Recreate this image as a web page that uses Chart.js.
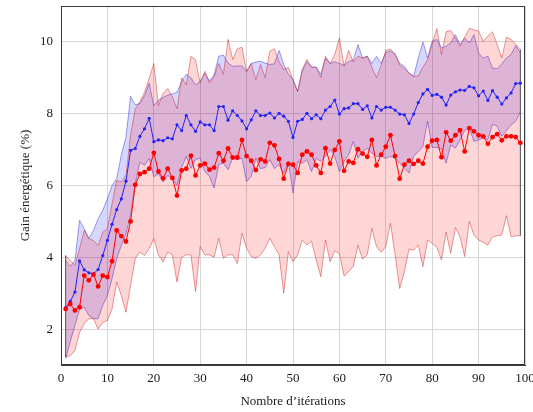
<!DOCTYPE html>
<html lang="fr">
<head>
<meta charset="utf-8">
<title>Gain énergétique</title>
<script src="https://cdn.jsdelivr.net/npm/chart.js@4.4.1/dist/chart.umd.min.js"></script>
<style>
  html, body { margin: 0; padding: 0; background: #fff; }
  canvas { display: block; }
</style>
</head>
<body>
<canvas id="gainChart" width="533" height="412"></canvas>
<script>
// itérations 1..99
const iterations = Array.from({ length: 99 }, (_, i) => i + 1);

const blueMean = [
  2.60, 2.77, 3.03, 3.90, 3.65, 3.57, 3.54, 3.66, 4.05, 4.47, 4.92, 5.33, 5.63, 6.12, 6.98, 7.03, 7.37, 7.58, 7.87, 7.22, 7.27, 7.25, 7.33, 7.30, 7.69,
  7.53, 7.95, 7.69, 7.51, 7.77, 7.69, 7.69, 7.53, 8.20, 8.20, 7.82, 8.08, 7.95, 7.80, 7.58, 7.83, 8.08, 7.95, 7.95, 8.02, 7.88, 8.01, 7.93, 7.79, 7.34,
  7.79, 7.84, 8.01, 7.86, 7.97, 7.86, 8.10, 8.20, 8.38, 7.99, 8.14, 8.16, 8.28, 8.28, 8.12, 8.22, 7.88, 8.20, 8.10, 8.18, 8.18, 8.10, 7.99, 7.97, 7.73,
  7.99, 8.31, 8.55, 8.68, 8.51, 8.54, 8.46, 8.24, 8.52, 8.61, 8.66, 8.65, 8.76, 8.72, 8.50, 8.63, 8.37, 8.64, 8.46, 8.27, 8.44, 8.58, 8.84, 8.85
];
const blueMax = [
  3.91, 3.75, 3.90, 5.03, 4.80, 4.52, 4.75, 5.07, 5.31, 5.63, 6.00, 6.19, 6.85, 7.35, 8.48, 8.25, 8.28, 8.50, 8.85, 8.22, 8.38, 8.45, 8.52, 8.55, 8.60,
  8.90, 9.10, 9.00, 8.80, 8.90, 9.12, 8.92, 9.08, 9.60, 9.63, 9.41, 9.32, 9.33, 9.33, 9.18, 9.40, 9.44, 9.46, 9.41, 9.37, 9.39, 9.76, 9.37, 9.10, 8.95,
  8.62, 9.20, 9.45, 9.30, 9.30, 9.10, 9.55, 9.40, 9.45, 9.40, 9.35, 9.45, 9.50, 9.92, 9.55, 9.60, 9.40, 9.60, 9.40, 9.70, 9.75, 9.65, 9.40, 9.32, 9.13,
  9.04, 9.55, 10.00, 9.55, 10.02, 10.07, 9.83, 9.88, 9.97, 10.20, 9.93, 10.11, 9.97, 10.20, 9.69, 9.55, 9.60, 9.27, 9.25, 9.39, 9.55, 9.65, 9.90, 9.69
];
const blueMin = [
  1.17, 1.65, 2.10, 2.55, 2.61, 2.38, 2.29, 2.29, 2.66, 2.94, 3.40, 3.96, 4.33, 4.66, 5.17, 6.05, 6.65, 6.56, 6.75, 6.24, 6.33, 6.10, 6.28, 6.20, 6.00,
  6.50, 6.81, 6.48, 6.72, 6.76, 6.39, 6.25, 5.93, 6.58, 6.62, 6.44, 6.76, 6.72, 6.76, 6.11, 6.25, 6.76, 6.47, 6.50, 6.72, 6.47, 6.58, 6.34, 6.67, 5.79,
  6.67, 6.62, 6.72, 6.39, 6.76, 6.67, 6.81, 7.00, 6.81, 6.39, 6.67, 6.86, 7.23, 6.76, 6.95, 7.04, 6.90, 6.81, 6.81, 6.76, 6.81, 6.76, 6.62, 6.50, 6.35,
  6.81, 6.95, 7.09, 7.79, 7.06, 7.06, 7.02, 6.62, 7.13, 7.04, 7.27, 7.53, 7.60, 7.23, 7.27, 7.33, 7.27, 7.71, 7.65, 7.37, 7.53, 7.69, 7.79, 8.05
];

const redMean = [
  2.56, 2.70, 2.52, 2.61, 3.49, 3.36, 3.52, 3.19, 3.49, 3.45, 3.89, 4.75, 4.59, 4.44, 5.00, 6.02, 6.32, 6.37, 6.47, 6.91, 6.39, 6.20, 6.47, 6.21, 5.72,
  6.42, 6.47, 6.83, 6.28, 6.56, 6.61, 6.44, 6.50, 6.90, 6.69, 7.03, 6.78, 6.78, 7.27, 6.82, 6.69, 6.43, 6.73, 6.67, 7.19, 7.12, 6.74, 6.19, 6.60, 6.58,
  6.35, 6.86, 6.95, 6.86, 6.56, 6.35, 7.04, 6.61, 6.99, 7.23, 6.41, 6.67, 6.63, 7.01, 6.89, 6.80, 7.27, 6.56, 6.86, 7.08, 7.40, 6.82, 6.19, 6.58, 6.69,
  6.60, 6.69, 6.61, 7.08, 7.25, 7.27, 6.79, 7.48, 7.25, 7.40, 7.54, 6.95, 7.60, 7.51, 7.40, 7.37, 7.16, 7.35, 7.43, 7.26, 7.37, 7.37, 7.35, 7.19
];
const redMax = [
  4.05, 3.91, 3.77, 4.24, 4.75, 4.52, 4.47, 4.33, 4.70, 4.80, 5.49, 6.14, 6.10, 6.28, 7.40, 8.14, 8.33, 8.60, 8.98, 9.40, 8.23, 8.56, 8.70, 8.47, 8.14,
  9.00, 8.80, 9.60, 9.50, 8.85, 9.18, 8.86, 9.04, 9.40, 9.10, 10.07, 9.51, 9.81, 9.85, 9.18, 9.40, 8.95, 9.37, 9.00, 9.74, 9.81, 9.45, 9.23, 9.29, 8.95,
  8.62, 9.23, 9.51, 9.29, 9.29, 9.01, 9.60, 9.39, 9.65, 10.11, 9.32, 9.76, 9.44, 9.60, 9.55, 9.60, 9.30, 9.00, 9.35, 9.76, 9.80, 9.67, 9.35, 9.25, 9.13,
  9.04, 9.05, 9.30, 9.50, 9.95, 10.37, 9.65, 10.28, 10.32, 10.11, 9.88, 10.13, 10.37, 10.34, 10.30, 10.02, 10.16, 10.28, 9.93, 9.55, 10.13, 10.07, 9.93, 9.79
];
const redMin = [
  1.22, 1.26, 1.40, 1.91, 2.15, 2.29, 2.29, 2.00, 2.19, 2.24, 2.56, 3.31, 2.94, 2.47, 3.22, 3.96, 4.15, 4.05, 4.24, 4.52, 4.07, 3.87, 4.15, 4.07, 3.31,
  4.00, 4.07, 4.07, 3.04, 4.30, 4.07, 4.07, 4.00, 4.53, 3.97, 4.07, 4.07, 3.83, 4.67, 4.25, 4.02, 3.97, 4.07, 4.25, 4.53, 4.30, 4.07, 3.00, 4.16, 3.88,
  4.07, 4.48, 4.34, 4.45, 3.93, 3.46, 4.48, 3.88, 4.18, 4.10, 3.48, 3.60, 3.75, 4.34, 3.95, 4.07, 4.81, 4.30, 4.14, 4.30, 4.95, 4.07, 3.13, 3.60, 4.23,
  4.20, 4.34, 3.74, 4.48, 4.39, 4.28, 3.93, 4.70, 4.11, 4.83, 4.57, 4.02, 5.00, 4.62, 4.48, 4.42, 4.34, 4.57, 4.60, 4.62, 5.16, 4.57, 4.60, 4.60
];

const xTicks = [0, 10, 20, 30, 40, 50, 60, 70, 80, 90, 100];
const yTicks = [2, 4, 6, 8, 10];

const toPoints = values => values.map((v, i) => ({ x: iterations[i], y: v }));
const last = iterations.length - 1;

const serif = "'Liberation Serif', 'DejaVu Serif', serif";

// cadre complet autour de la zone de tracé
const frame = {
  id: 'frame',
  afterDraw(chart) {
    const { ctx, chartArea: a } = chart;
    ctx.save();
    ctx.strokeStyle = '#3a3a3a';
    ctx.lineWidth = 1;
    ctx.strokeRect(a.left + 0.5, a.top + 0.5, a.right - a.left - 1, a.bottom - a.top - 1);
    ctx.restore();
  }
};

function band(label, values, color, order, fill) {
  return {
    label,
    data: toPoints(values),
    borderColor: color,
    borderWidth: 1,
    backgroundColor: fill || 'transparent',
    fill: fill ? '+1' : false,
    pointRadius: 0,
    tension: 0,
    order
  };
}

const ctx = document.getElementById('gainChart').getContext('2d');

new Chart(ctx, {
  type: 'line',
  data: {
    datasets: [
      band('blueMax', blueMax, 'rgba(40,40,210,0.45)', 5, 'rgba(0,0,255,0.16)'),
      band('blueMin', blueMin, 'rgba(40,40,210,0.45)', 5),
      band('redMax', redMax, 'rgba(200,30,30,0.45)', 3, 'rgba(255,0,0,0.16)'),
      band('redMin', redMin, 'rgba(200,30,30,0.45)', 3),
      {
        label: 'bords',
        data: [{ x: 1, y: redMin[0] }, { x: 1, y: redMax[0] }],
        borderColor: 'rgba(40,40,40,0.8)',
        borderWidth: 1,
        pointRadius: 0,
        order: 2
      },
      {
        label: 'bords fin',
        data: [{ x: iterations[last], y: redMin[last] }, { x: iterations[last], y: redMax[last] }],
        borderColor: 'rgba(40,40,40,0.8)',
        borderWidth: 1,
        pointRadius: 0,
        order: 2
      },
      {
        label: 'Moyenne bleue',
        data: toPoints(blueMean),
        borderColor: 'rgb(35,35,245)',
        backgroundColor: 'rgb(35,35,245)',
        borderWidth: 1,
        pointRadius: 1.6,
        pointBorderWidth: 0,
        tension: 0,
        order: 1
      },
      {
        label: 'Moyenne rouge',
        data: toPoints(redMean),
        borderColor: 'rgb(255,0,0)',
        backgroundColor: 'rgb(255,0,0)',
        borderWidth: 1,
        pointRadius: 2.4,
        pointBorderWidth: 0,
        tension: 0,
        order: 0
      }
    ]
  },
  options: {
    responsive: false,
    animation: false,
    layout: { padding: { left: 0, right: 8, top: 6, bottom: 0 } },
    plugins: {
      legend: { display: false },
      tooltip: { enabled: false },
      filler: { propagate: false }
    },
    scales: {
      x: {
        type: 'linear',
        min: 0,
        max: 100,
        afterBuildTicks: scale => { scale.ticks = xTicks.map(v => ({ value: v })); },
        afterFit: scale => { scale.height = 47; scale.paddingLeft = 0; scale.paddingRight = 0; },
        grid: { color: '#d6d6d6', drawTicks: false },
        border: { color: '#3a3a3a' },
        ticks: { padding: 6, color: '#1a1a1a', font: { family: serif, size: 13 }, maxRotation: 0 },
        title: {
          display: true,
          text: 'Nombre d’itérations',
          color: '#1a1a1a',
          font: { family: serif, size: 13 },
          padding: { top: 0, bottom: 3 }
        }
      },
      y: {
        type: 'linear',
        min: 1,
        max: 11,
        afterBuildTicks: scale => { scale.ticks = yTicks.map(v => ({ value: v })); },
        afterFit: scale => { scale.width = 61; scale.paddingTop = 0; scale.paddingBottom = 0; },
        grid: { color: '#d6d6d6', drawTicks: false },
        border: { color: '#3a3a3a' },
        ticks: { padding: 8, color: '#1a1a1a', font: { family: serif, size: 13 } },
        title: {
          display: true,
          text: 'Gain énergétique (%)',
          color: '#1a1a1a',
          font: { family: serif, size: 13 },
          padding: { top: 18, bottom: 0 }
        }
      }
    }
  },
  plugins: [frame]
});
</script>
</body>
</html>
